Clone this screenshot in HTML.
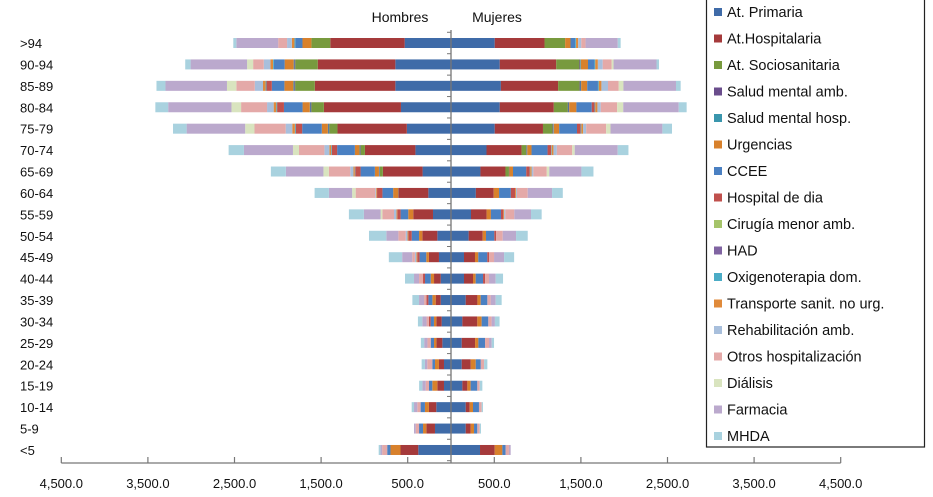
<!DOCTYPE html>
<html><head><meta charset="utf-8">
<style>
body{margin:0;background:#fff;}
svg{display:block;font-family:"Liberation Sans",sans-serif;}
</style></head>
<body>
<svg id="chart" width="933" height="497" viewBox="0 0 933 497"></svg>
<script>
const ages = [">94","90-94","85-89","80-84","75-79","70-74","65-69","60-64","55-59","50-54","45-49","40-44","35-39","30-34","25-29","20-24","15-19","10-14","5-9","<5"];
const categories = ["At. Primaria","At.Hospitalaria","At. Sociosanitaria","Salud mental amb.","Salud mental hosp.","Urgencias","CCEE","Hospital de dia","Cirugía menor amb.","HAD","Oxigenoterapia dom.","Transporte sanit. no urg.","Rehabilitación amb.","Otros hospitalización","Diálisis","Farmacia","MHDA"];
const colors = ["#3f6ba8","#a53a3b","#789a3e","#6a4d8c","#3a96ad","#d8812c","#4a80c2","#c0504d","#a5c46a","#8064a2","#4bacc6","#e08a3a","#a8bfdc","#e4a9a8","#d9e4bf","#bba9cd","#a9d2df"];
const tickValues = [-4500,-3500,-2500,-1500,-500,500,1500,2500,3500,4500];
const tickLabels = ["4,500.0","3,500.0","2,500.0","1,500.0","500.0","500.0","1,500.0","2,500.0","3,500.0","4,500.0"];

// Hombres (men), rows top to bottom
const apM   = [535,643,643,578,510,411,328,262,208,158,139,119,119,108,100,81,81,170,185,378];
const ahM   = [859,896,930,890,801,583,459,339,228,173,116,77,58,62,69,58,77,85,100,205];
const assM  = [218,260,227,145,95,50,35,0,0,0,0,0,0,0,0,0,0,0,0,0];
const smaM  = [0,10,10,10,8,6,5,5,0,0,0,0,0,0,0,0,0,0,0,0];
const smhM  = [0,8,10,8,8,6,5,0,0,0,0,0,0,0,0,0,0,0,0,0];
const urgM  = [103,104,104,83,70,54,47,62,58,38,31,38,38,27,27,46,58,46,38,116];
const cceeM = [83,124,145,215,227,205,165,124,88,85,77,66,46,38,38,31,38,50,46,38];
const hdM   = [0,0,62,79,74,62,62,62,38,38,27,23,23,20,0,0,0,0,0,0];
const cirM  = [0,0,0,0,0,0,0,0,0,0,0,0,0,0,0,0,0,0,0,0];
const hadM  = [0,0,0,0,0,0,0,0,0,0,0,0,0,0,0,0,0,0,0,0];
const oxM   = [10,10,10,10,10,8,5,0,0,0,0,0,0,0,0,0,0,0,0,0];
const trM   = [30,30,30,30,30,20,15,10,10,10,10,0,0,0,0,0,0,0,0,0];
const rehM  = [55,77,95,76,76,57,37,10,28,21,17,0,0,0,0,0,0,0,0,0];
const otrM  = [103,123,213,300,360,293,248,227,135,85,31,46,27,27,38,58,38,38,38,58];
const dialM = [0,70,108,111,108,70,62,41,20,0,0,0,0,0,0,0,0,0,0,0];
const farmM = [483,652,710,731,676,566,434,268,193,139,116,58,58,50,38,27,38,38,20,20];
const mhdaM = [35,62,104,148,157,177,173,165,173,200,154,104,77,50,38,38,38,27,0,20];

// Mujeres (women)
const apW   = [505,563,576,563,505,410,340,287,231,204,150,150,170,131,124,124,131,170,170,335];
const ahW   = [575,652,661,624,557,405,289,206,180,162,127,104,135,173,154,104,58,46,58,170];
const assW  = [238,268,248,162,111,55,40,0,0,0,0,0,0,0,0,0,0,0,0,0];
const smaW  = [0,8,10,8,8,6,5,0,0,0,0,0,0,0,0,0,0,0,0,0];
const smhW  = [0,8,8,8,6,5,0,0,0,0,0,0,0,0,0,0,0,0,0,0];
const urgW  = [62,83,70,83,62,49,42,62,50,38,38,31,38,50,38,58,38,38,38,88];
const cceeW = [54,74,124,177,206,185,153,136,116,96,104,85,77,77,77,58,77,69,38,38];
const hdW   = [0,0,0,33,42,42,41,50,27,20,20,23,0,0,0,0,0,0,0,0];
const cirW  = [0,0,0,0,0,0,0,0,0,0,0,0,0,0,0,0,0,0,0,0];
const hadW  = [0,0,0,0,0,0,0,0,0,0,0,0,0,0,0,0,0,0,0,0];
const oxW   = [10,10,10,8,8,6,5,0,0,0,0,0,0,0,0,0,0,0,0,0];
const trW   = [25,30,30,25,20,20,15,10,10,0,0,0,0,0,0,0,0,0,0,0];
const rehW  = [35,56,76,38,36,39,21,11,13,0,0,0,0,0,0,0,0,0,0,0];
const otrW  = [50,104,124,190,231,178,155,124,104,77,58,46,38,38,46,38,27,31,27,38];
const dialW = [0,21,54,70,50,29,29,0,0,0,0,0,0,0,0,0,0,0,0,0];
const farmW = [372,496,607,641,599,496,371,281,193,154,116,77,58,38,31,0,0,0,0,20];
const mhdaW = [33,29,54,91,111,124,139,124,123,135,116,85,69,54,27,38,31,15,15,0];

const menSeries = [apM,ahM,assM,smaM,smhM,urgM,cceeM,hdM,cirM,hadM,oxM,trM,rehM,otrM,dialM,farmM,mhdaM];
const womenSeries = [apW,ahW,assW,smaW,smhW,urgW,cceeW,hdW,cirW,hadW,oxW,trW,rehW,otrW,dialW,farmW,mhdaW];

const NS = "http://www.w3.org/2000/svg";
const svg = document.getElementById("chart");
const cx = 451, scale = 0.0866;
const x = v => cx + v * scale;
const y0 = 43, rowStep = 21.42, barH = 10;
const yRow = i => y0 + i * rowStep;
function mk(tag, attrs, parent){const e=document.createElementNS(NS,tag);for(const k in attrs)e.setAttribute(k,attrs[k]);(parent||svg).appendChild(e);return e;}

// bars
const barsG = mk("g",{});


ages.forEach((age,i)=>{
  let accM = 0, accW = 0;
  categories.forEach((cat,c)=>{
    const vm = menSeries[c][i];
    if(vm>0){
      const r = mk("rect",{x:x(-(accM+vm)),y:yRow(i)-barH/2,width:vm*scale,height:barH,fill:colors[c]},barsG);
      
      
      accM += vm;
    }
    const vw = womenSeries[c][i];
    if(vw>0){
      const r = mk("rect",{x:x(accW),y:yRow(i)-barH/2,width:vw*scale,height:barH,fill:colors[c]},barsG);
      
      
      accW += vw;
    }
  });
  const t = mk("text",{x:20,y:yRow(i)+5,"font-size":13,fill:"#111"});
  t.textContent = age;
  
  
});

// center axis
const ca = mk("line",{x1:cx,y1:30,x2:cx,y2:463,stroke:"#777","stroke-width":1.3});


for(let i=0;i<=ages.length;i++){
  const yy = yRow(i)-rowStep/2;
  const tk = mk("line",{x1:cx-4,y1:yy,x2:cx,y2:yy,stroke:"#777","stroke-width":1});
  
  
}
// bottom axis
const ba = mk("line",{x1:x(-4500),y1:463,x2:x(4500),y2:463,stroke:"#777","stroke-width":1.3});


tickValues.forEach((v,k)=>{
  const tk = mk("line",{x1:x(v),y1:457,x2:x(v),y2:463,stroke:"#777","stroke-width":1.2});
  
  
  const t = mk("text",{x:x(v),y:488,"font-size":13,fill:"#111","text-anchor":"middle"});
  t.textContent = tickLabels[k];
  
  
});
// headers
const h1 = mk("text",{x:400,y:22,"font-size":14,fill:"#111","text-anchor":"middle"});
h1.textContent="Hombres";


const h2 = mk("text",{x:497,y:22,"font-size":14,fill:"#111","text-anchor":"middle"});
h2.textContent="Mujeres";



// legend
const lg = mk("g",{});


const lb = mk("rect",{x:706.5,y:-1,width:218,height:448,fill:"#fff",stroke:"#222","stroke-width":1.2},lg);


categories.forEach((cat,c)=>{
  const yy = 12 + c*26.5;
  const e = mk("g",{},lg);
  
  
  mk("rect",{x:714,y:yy-4,width:8,height:8,fill:colors[c]},e);
  const t = mk("text",{x:727,y:yy+5,"font-size":14.5,fill:"#111"},e);
  t.textContent = cat;
});
</script>
</body></html>
